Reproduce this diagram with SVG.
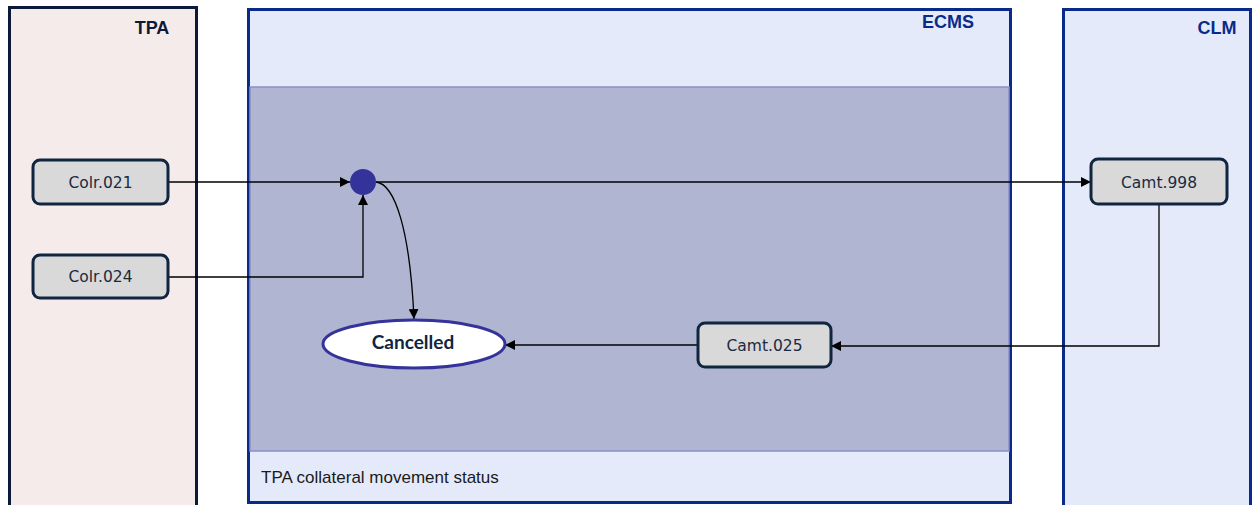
<svg xmlns="http://www.w3.org/2000/svg" width="1252" height="505" viewBox="0 0 1252 505">
<defs>
<marker id="arr" viewBox="0 0 10 10" refX="10" refY="5" markerWidth="10" markerHeight="10" markerUnits="userSpaceOnUse" orient="auto">
<path d="M0,0 L10,5 L0,10 z" fill="#000"/>
</marker>
</defs>
<style>
.msg{fill:#d9d9d9;stroke:#0f2540;stroke-width:3}
.mt{font-family:"DejaVu Sans",Verdana,sans-serif;font-size:15.5px;fill:#1a2a40;text-anchor:middle}
.hd{font-family:"Liberation Sans",Arial,sans-serif;font-size:18px;font-weight:bold}
.cn{fill:none;stroke:#000;stroke-width:1.3}
</style>
<rect width="1252" height="505" fill="#fff"/>
<g id="tpa">
<rect x="9.5" y="7.5" width="187" height="510" fill="#f6ebeb" stroke="#0a1a38" stroke-width="3"/>
<text x="152" y="34" class="hd" text-anchor="middle" fill="#0a1a38">TPA</text>
</g>
<g id="ecms">
<rect x="248.5" y="9.5" width="762" height="493" fill="#e4eafa" stroke="#0a2a8a" stroke-width="3"/>
<rect x="250" y="87" width="759" height="364" fill="#b0b6d2" stroke="#8a90c8" stroke-width="1.5"/>
<text x="948" y="28" class="hd" text-anchor="middle" fill="#0a2a8a">ECMS</text>
<text x="261" y="483" font-family="Liberation Sans,Arial,sans-serif" font-size="17" fill="#1a1a1a">TPA collateral movement status</text>
</g>
<g id="clm">
<rect x="1063.5" y="9.5" width="187" height="510" fill="#e4eafa" stroke="#0a2a8a" stroke-width="3"/>
<text x="1217" y="34" class="hd" text-anchor="middle" fill="#0a2a8a">CLM</text>
</g>
<g id="connectors">
<path class="cn" d="M168,182 H350" marker-end="url(#arr)"/>
<path class="cn" d="M168,277 H363 V195" marker-end="url(#arr)"/>
<path class="cn" d="M376,182 H1091" marker-end="url(#arr)"/>
<path class="cn" d="M376,182 C395,184 410,230 414,319" marker-end="url(#arr)"/>
<path class="cn" d="M1159,204 V346 H831" marker-end="url(#arr)"/>
<path class="cn" d="M698,345 H505" marker-end="url(#arr)"/>
</g>
<g id="colr021">
<rect x="33" y="160" width="135" height="44" rx="7" class="msg"/>
<text x="100.5" y="188" class="mt">Colr.021</text>
</g>
<g id="colr024">
<rect x="33" y="255" width="135" height="43" rx="7" class="msg"/>
<text x="100.5" y="282" class="mt">Colr.024</text>
</g>
<g id="junction">
<circle cx="363" cy="182" r="13" fill="#333399"/>
</g>
<g id="camt998">
<rect x="1091" y="159" width="136" height="45" rx="7" class="msg"/>
<text x="1159" y="188" class="mt">Camt.998</text>
</g>
<g id="camt025">
<rect x="698" y="323" width="133" height="44" rx="7" class="msg"/>
<text x="764.5" y="351" class="mt">Camt.025</text>
</g>
<g id="cancelled">
<ellipse cx="414" cy="344" rx="91" ry="24" fill="#fff" stroke="#333399" stroke-width="3"/>
<text x="413" y="349" font-family="Lato,'Open Sans',sans-serif" font-size="19" font-weight="bold" fill="#0f2540" text-anchor="middle">Cancelled</text>
</g>
</svg>
